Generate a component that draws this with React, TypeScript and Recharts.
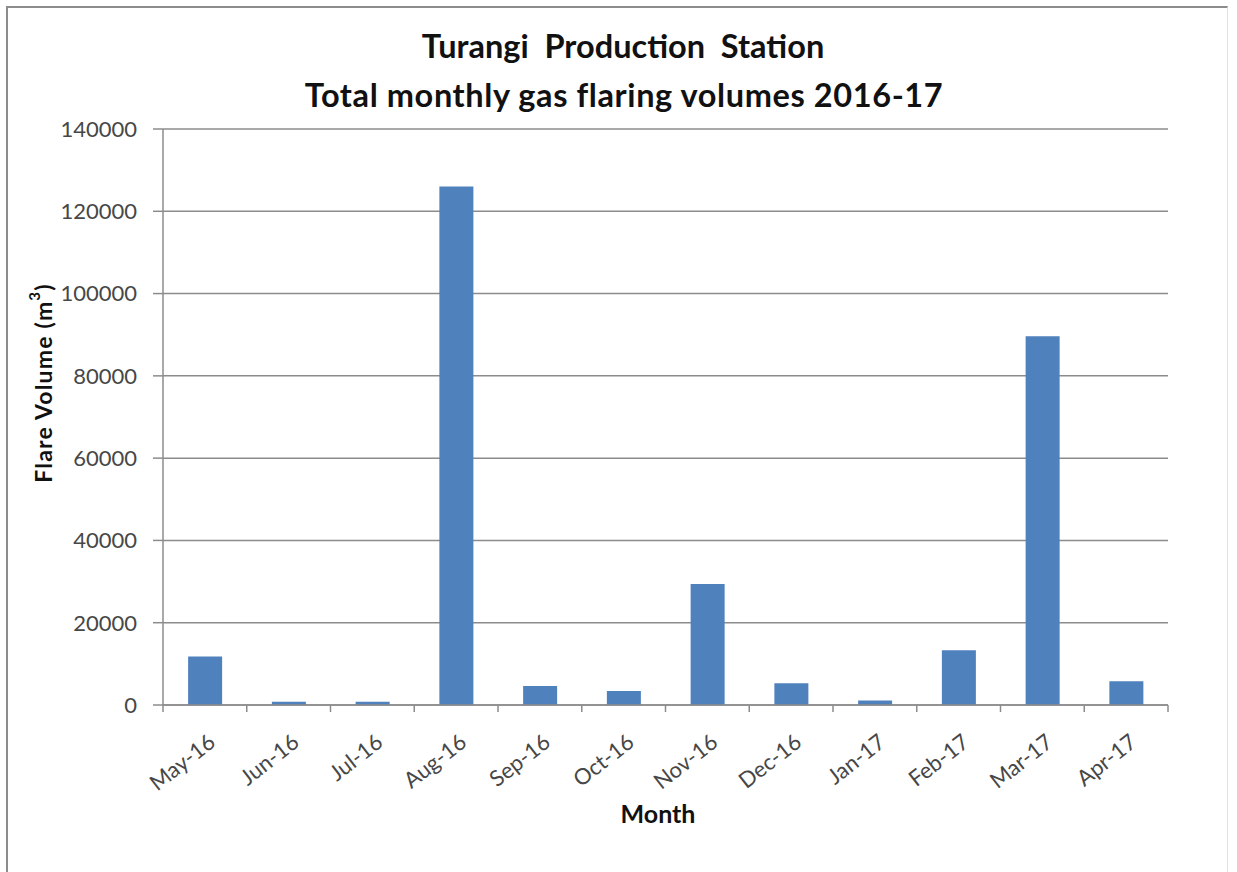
import React from 'react';
import { BarChart, Bar, XAxis, YAxis, CartesianGrid } from 'recharts';

const months = ['May-16', 'Jun-16', 'Jul-16', 'Aug-16', 'Sep-16', 'Oct-16', 'Nov-16', 'Dec-16', 'Jan-17', 'Feb-17', 'Mar-17', 'Apr-17'];
const flareVolumes = [11800, 800, 800, 126000, 4600, 3400, 29400, 5300, 1100, 13300, 89600, 5750];
const yTicks = [0, 20000, 40000, 60000, 80000, 100000, 120000, 140000];

const titleLines = ['Turangi  Production  Station', 'Total monthly gas flaring volumes 2016-17'];
const xTitle = 'Month';

const data = months.map((m, i) => ({ month: m, volume: flareVolumes[i] }));

const W = 1237;
const H = 872;
const PLOT_LEFT = 163;
const PLOT_RIGHT = 1168;
const PLOT_TOP = 129;
const PLOT_BOTTOM = 705;
const STEP = (PLOT_RIGHT - PLOT_LEFT) / months.length;
const FONT = 'Lato, "Open Sans", sans-serif';
const GRID = '#8c8c8c';
const TICK_COLOR = '#474747';

const XTick = (props: any) => {
  const { x, payload, index } = props;
  const axisY = PLOT_BOTTOM;
  const lx = x + 12;
  const ly = axisY + 40;
  return (
    <g>
      <line x1={x - STEP / 2} x2={x - STEP / 2} y1={axisY} y2={axisY + 7} stroke={GRID} strokeWidth={1.5} />
      {index === months.length - 1 && (
        <line x1={x + STEP / 2} x2={x + STEP / 2} y1={axisY} y2={axisY + 7} stroke={GRID} strokeWidth={1.5} />
      )}
      <text
        x={lx}
        y={ly}
        textAnchor="end"
        transform={`rotate(-38 ${lx} ${ly})`}
        fontFamily={FONT}
        fontSize={22}
        fill={TICK_COLOR}
      >
        {payload.value}
      </text>
    </g>
  );
};

export default function App() {
  return (
    <div style={{ position: 'absolute', left: 0, top: 0, width: W, height: H, background: '#fff', fontFamily: FONT }}>
      <div
        style={{
          position: 'absolute',
          left: 6,
          top: 6,
          width: 1222,
          height: 880,
          borderLeft: '2px solid #8c8c8c',
          borderTop: '2px solid #8c8c8c',
          borderRight: '1px solid #e2e2e2',
          boxSizing: 'border-box',
        }}
      />
      <div style={{ position: 'absolute', left: 0, top: 0 }}>
        <BarChart
          width={W}
          height={H}
          data={data}
          margin={{ top: PLOT_TOP, right: W - PLOT_RIGHT, left: 0, bottom: H - PLOT_BOTTOM - 100 }}
          barCategoryGap="30%"
        >
          <CartesianGrid vertical={false} stroke={GRID} strokeWidth={1.5} />
          <XAxis
            dataKey="month"
            height={100}
            tickLine={false}
            axisLine={{ stroke: GRID, strokeWidth: 1.5 }}
            tick={<XTick />}
            interval={0}
          />
          <YAxis
            width={PLOT_LEFT}
            domain={[0, 140000]}
            ticks={yTicks}
            interval={0}
            tickSize={10}
            tickMargin={16}
            tickLine={{ stroke: GRID, strokeWidth: 1.5 }}
            axisLine={{ stroke: GRID, strokeWidth: 1.5 }}
            tick={{ fontFamily: FONT, fontSize: 22, fill: TICK_COLOR }}
          />
          <Bar dataKey="volume" fill="#4F81BD" isAnimationActive={false} />
        </BarChart>
      </div>
      <svg width={W} height={H} style={{ position: 'absolute', left: 0, top: 0, pointerEvents: 'none' }}>
        <text x={623} y={58} textAnchor="middle" fontFamily={FONT} fontWeight="bold" fontSize={32.5} fill="#111" xmlSpace="preserve">
          {titleLines[0]}
        </text>
        <text x={624} y={107} textAnchor="middle" fontFamily={FONT} fontWeight="bold" fontSize={32.5} letterSpacing={0.6} fill="#111">
          {titleLines[1]}
        </text>
        <text x={658} y={823} textAnchor="middle" fontFamily={FONT} fontWeight="bold" fontSize={25} fill="#111">
          {xTitle}
        </text>
        <text
          x={43}
          y={383}
          textAnchor="middle"
          dominantBaseline="central"
          transform="rotate(-90 43 383)"
          fontFamily={FONT}
          fontWeight="bold"
          fontSize={23}
          letterSpacing={1.2}
          fill="#111"
        >
          Flare Volume (m<tspan fontSize={15} dy={-9}>3</tspan><tspan dy={9}>)</tspan>
        </text>
      </svg>
    </div>
  );
}
